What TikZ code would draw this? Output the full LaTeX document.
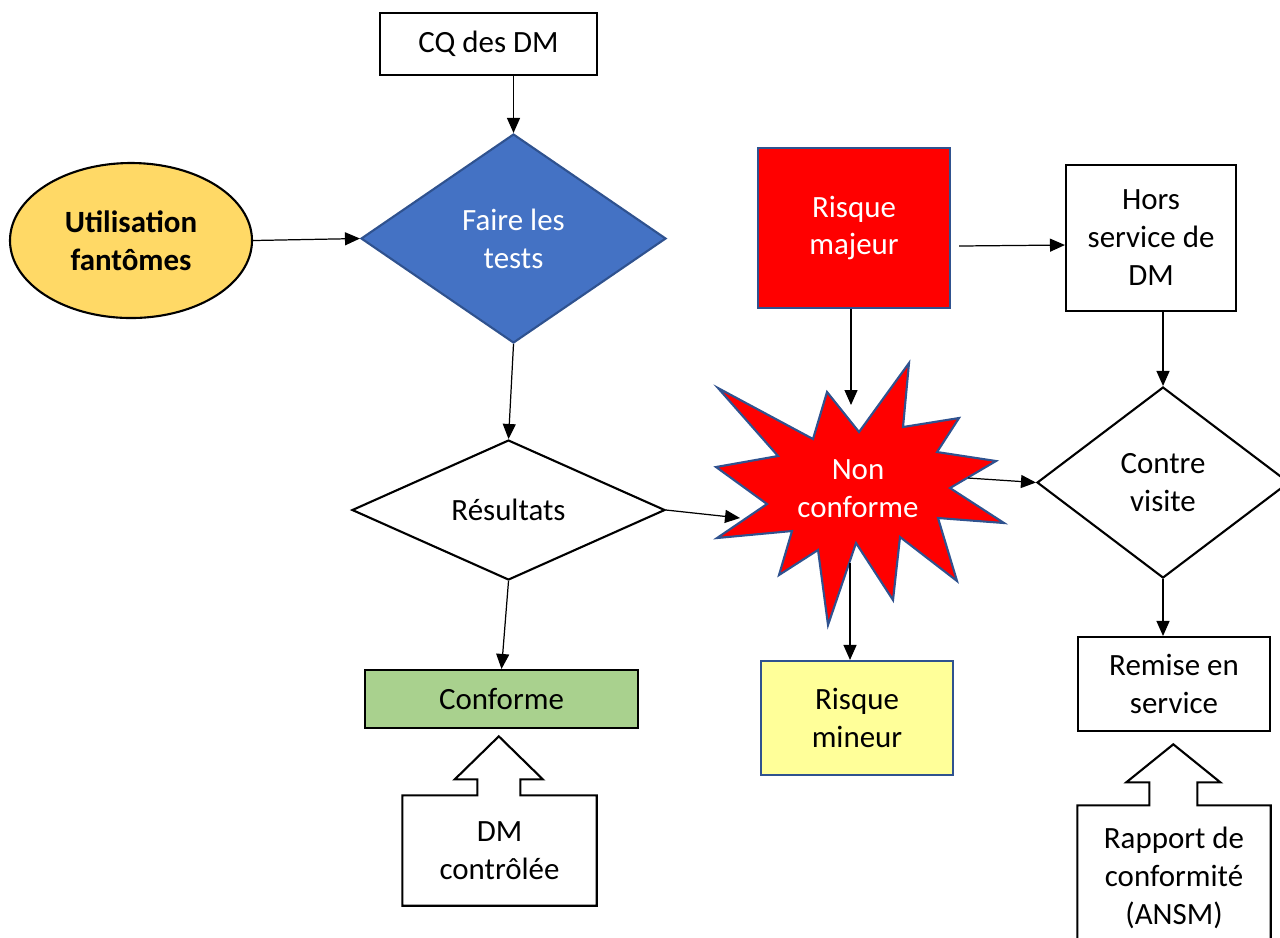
\documentclass[tikz,border=0pt]{standalone}
\usepackage{fontspec}
\setmainfont{Carlito}
\usetikzlibrary{shapes.geometric, arrows.meta}

\definecolor{wordblue}{HTML}{4472C4}
\definecolor{wordedge}{HTML}{2F528F}
\definecolor{fantgold}{HTML}{FFD966}
\definecolor{confgreen}{HTML}{A9D18E}
\definecolor{minyellow}{HTML}{FFFF99}

\begin{document}
\begin{tikzpicture}[
    every node/.style={font=\fontsize{8.8}{10.8}\selectfont, align=center, inner sep=0pt},
    box/.style={rectangle, draw, line width=0.6pt},
    decision/.style={diamond, draw, line width=0.6pt},
    arr/.style={-{Triangle[length=1.5mm,width=1.3mm]}, line width=0.35pt}
  ]
            \useasboundingbox (0,0) rectangle (12.8,-9.37);
            \clip (0,0) rectangle (12.8,-9.37);

            % left column
            \node[box, minimum width=2.17cm, minimum height=0.62cm] (cq) at (4.885,-0.44) {CQ des DM};
            \node[decision, fill=wordblue, draw=wordedge, text=white, aspect=1.46, minimum width=3.05cm, minimum height=2.09cm] (faire) at (5.135,-2.385) {Faire les\\tests};
            \node[ellipse, draw, line width=0.6pt, fill=fantgold, minimum width=2.42cm, minimum height=1.55cm] (util) at (1.31,-2.405) {\bfseries Utilisation\\\bfseries fantômes};
            \node[decision, aspect=2.24, minimum width=3.13cm, minimum height=1.40cm] (result) at (5.085,-5.10) {Résultats};
            \node[box, fill=confgreen, minimum width=2.73cm, minimum height=0.58cm] (conf) at (5.015,-6.99) {Conforme};
            \node[minimum width=1.93cm, minimum height=1.09cm] (ctrl) at (4.995,-8.505) {DM\\contrôlée};
            \draw[line width=0.6pt] (ctrl.north west) -- ++(0.75,0) -- ++(0,0.16) -- ++(-0.225,0)
                -- ++(0.44,0.43) -- ++(0.44,-0.43) -- ++(-0.225,0) -- ++(0,-0.16)
                -- (ctrl.north east) -- (ctrl.south east) -- (ctrl.south west) -- cycle;

            % middle column
            \node[box, fill=red, draw=wordedge, text=white, minimum width=1.92cm, minimum height=1.60cm] (majeur) at (8.54,-2.28) {Risque\\majeur};
            \draw[fill=red, draw=wordedge, line width=0.6pt] (9.09,-3.63) -- (9.03,-4.27) -- (9.59,-4.18) -- (9.37,-4.52)
                -- (9.96,-4.61) -- (9.50,-4.88) -- (10.04,-5.23) -- (9.38,-5.18) -- (9.57,-5.81)
                -- (9.00,-5.37) -- (8.93,-6.00) -- (8.56,-5.43) -- (8.28,-6.25) -- (8.18,-5.50)
                -- (7.79,-5.75) -- (7.92,-5.31) -- (7.17,-5.38) -- (7.67,-5.04) -- (7.16,-4.67)
                -- (7.78,-4.56) -- (7.18,-3.88) -- (8.13,-4.39) -- (8.27,-3.92) -- (8.59,-4.32) -- cycle;
            \node[text=white] (nonconf) at (8.58,-4.89) {Non\\conforme};
            \coordinate (nctop) at (8.51,-4.05);
            \coordinate (ncleft) at (7.40,-5.18);
            \coordinate (ncright) at (9.68,-4.78);
            \coordinate (ncbot) at (8.50,-5.63);
            \node[box, fill=minyellow, draw=wordedge, minimum width=1.92cm, minimum height=1.14cm] (mineur) at (8.57,-7.18) {Risque\\mineur};

            % right column
            \node[box, minimum width=1.70cm, minimum height=1.46cm] (hors) at (11.51,-2.38) {Hors\\service de\\DM};
            \node[decision, aspect=1.32, minimum width=2.52cm, minimum height=1.91cm] (contre) at (11.63,-4.825) {Contre\\visite};
            \node[box, minimum width=1.92cm, minimum height=0.94cm] (remise) at (11.74,-6.84) {Remise en\\service};
            \node[minimum width=1.92cm, minimum height=1.44cm] (rapport) at (11.74,-8.78) {Rapport de\\conformité\\(ANSM)};
            \draw[line width=0.6pt] (rapport.north west) -- ++(0.72,0) -- ++(0,0.23) -- ++(-0.23,0)
                -- ++(0.47,0.38) -- ++(0.47,-0.38) -- ++(-0.23,0) -- ++(0,-0.23)
                -- (rapport.north east) -- (rapport.south east) -- (rapport.south west) -- cycle;

            % connectors
            \draw[arr] (faire.north |- cq.south) -- (faire.north);
            \draw[arr] (util.east) -- (faire.west);
            \draw[arr] (faire.south) -- (result.north);
            \draw[arr] (result.south) -- (conf.north);
            \draw[arr] (result.east) -- (ncleft);
            \draw[arr] (majeur.south -| nctop) -- (nctop);
            \draw[arr] (hors.west -| majeur.east) ++(0.08,-0.08) -- ([yshift=-0.07cm]hors.west);
            \draw[arr] (ncbot) -- (ncbot |- mineur.north);
            \draw[arr] (ncright) -- (contre.west);
            \draw[arr] (contre.north |- hors.south) -- (contre.north);
            \draw[arr] (contre.south) -- (contre.south |- remise.north);
        \end{tikzpicture}
\end{document}
